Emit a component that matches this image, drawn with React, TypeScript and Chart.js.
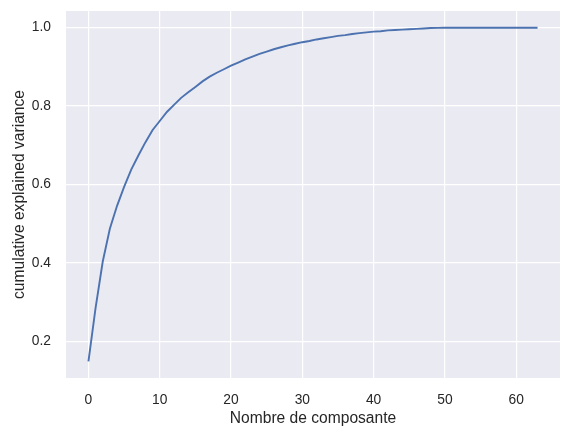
import React, { useEffect, useRef } from "react";
import { Chart, registerables } from "chart.js";

Chart.register(...registerables);

const cumulativeVariance: number[] = [
  0.149, 0.285, 0.403, 0.487, 0.545, 0.594, 0.638, 0.674, 0.708, 0.739,
  0.762, 0.785, 0.803, 0.821, 0.835, 0.849, 0.863, 0.875, 0.885, 0.894,
  0.903, 0.911, 0.919, 0.926, 0.933, 0.939, 0.945, 0.95, 0.955, 0.959,
  0.963, 0.966, 0.97, 0.973, 0.976, 0.979, 0.981, 0.984, 0.986, 0.988,
  0.99, 0.991, 0.993, 0.994, 0.995, 0.996, 0.997, 0.998, 0.999, 0.9994,
  0.9997, 0.9999, 1.0, 1.0, 1.0, 1.0, 1.0, 1.0, 1.0, 1.0,
  1.0, 1.0, 1.0, 1.0,
];
const xTicks: number[] = [0, 10, 20, 30, 40, 50, 60];
const yTicks: number[] = [0.2, 0.4, 0.6, 0.8, 1.0];
const xTitle = "Nombre de composante";
const yTitle = "cumulative explained variance";

const bgPlugin = {
  id: "bgPlugin",
  beforeDraw(chart: any) {
    const { ctx, chartArea } = chart;
    ctx.save();
    ctx.fillStyle = "#EAEAF2";
    ctx.fillRect(chartArea.left, chartArea.top, chartArea.right - chartArea.left, chartArea.bottom - chartArea.top);
    ctx.restore();
  },
};

export default function App() {
  const ref = useRef<HTMLCanvasElement | null>(null);
  useEffect(() => {
    if (!ref.current) return;
    const n = cumulativeVariance.length;
    const ymin = Math.min(...cumulativeVariance);
    const ymax = Math.max(...cumulativeVariance);
    const ym = (ymax - ymin) * 0.05;
    const xm = (n - 1) * 0.05;
    const font = { family: "Liberation Sans, Arial, sans-serif", size: 13.8 };
    const titleFont = { family: "Liberation Sans, Arial, sans-serif", size: 15.6 };
    const chart = new Chart(ref.current, {
      type: "line",
      data: {
        datasets: [
          {
            data: cumulativeVariance.map((v, i) => ({ x: i, y: v })),
            borderColor: "#4C72B0",
            borderWidth: 1.9,
            pointRadius: 0,
            tension: 0,
            fill: false,
          },
        ],
      },
      options: {
        animation: false,
        responsive: false,
        maintainAspectRatio: false,
        layout: { padding: 0 },
        plugins: { legend: { display: false }, tooltip: { enabled: false } },
        scales: {
          x: {
            type: "linear",
            min: -xm,
            max: n - 1 + xm,
            afterBuildTicks: (s: any) => {
              s.ticks = xTicks.map((v) => ({ value: v }));
            },
            afterFit: (s: any) => {
              s.height = 59;
              s.paddingRight = 11;
            },
            grid: { color: "#FFFFFF", lineWidth: 1.2, drawTicks: false },
            border: { display: false },
            ticks: { color: "#262626", font, padding: 14 },
            title: { display: true, text: xTitle, color: "#262626", font: titleFont, padding: { top: 0, bottom: 9 } },
          },
          y: {
            type: "linear",
            min: ymin - ym,
            max: ymax + ym,
            afterBuildTicks: (s: any) => {
              s.ticks = yTicks.map((v) => ({ value: v }));
            },
            afterFit: (s: any) => {
              s.width = 66;
              s.paddingTop = 11;
            },
            grid: { color: "#FFFFFF", lineWidth: 1.2, drawTicks: false },
            border: { display: false },
            ticks: { color: "#262626", font, padding: 15, callback: (v: any) => Number(v).toFixed(1) },
            title: { display: true, text: yTitle, color: "#262626", font: titleFont, padding: { top: 10, bottom: 0 } },
          },
        },
      },
      plugins: [bgPlugin],
    });
    return () => chart.destroy();
  }, []);
  return (
    <div style={{ position: "absolute", left: 0, top: 0, width: 571, height: 437, background: "#fff" }}>
      <canvas ref={ref} width={571} height={437} style={{ width: 571, height: 437 }} />
    </div>
  );
}
